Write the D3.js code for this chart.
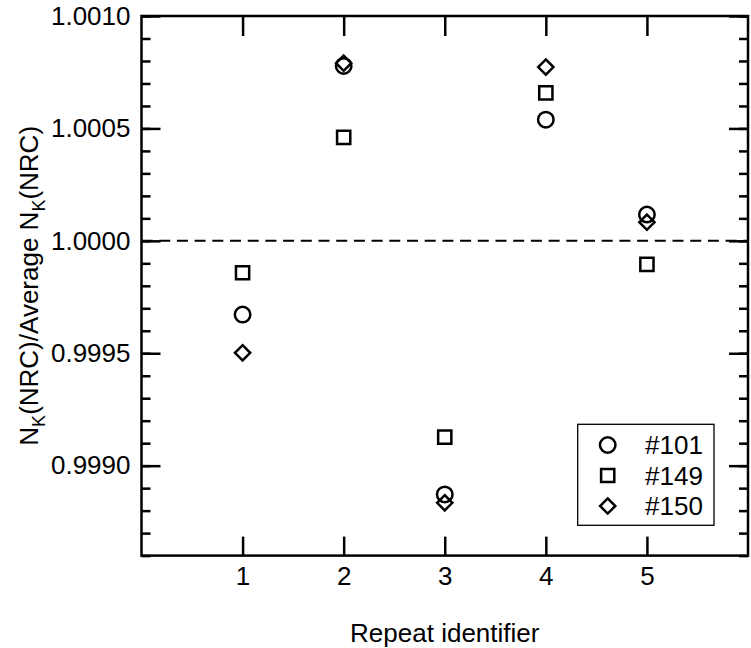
<!DOCTYPE html>
<html>
<head>
<meta charset="utf-8">
<script src="https://cdn.jsdelivr.net/npm/d3@7"></script>
<style>
    body { margin: 0; background: #fff; }
    text { font-family: "Liberation Sans", Arial, Helvetica, sans-serif; fill: #000; }
    .axis path.domain { display: none; }
    .axis line { stroke: #000; stroke-width: 2.5; }
    .axis text { font-size: 26px; }
</style>
</head>
<body>
<div id="chart"></div>
<script>
// data
const repeats = [1, 2, 3, 4, 5];
const seriesNames = ["#101", "#149", "#150"];
const s101 = [0.999672, 1.000778, 0.998872, 1.000539, 1.000117];
const s149 = [0.999858, 1.000460, 0.999127, 1.000658, 0.999895];
const s150 = [0.999502, 1.000790, 0.998835, 1.000773, 1.000083];
const xTicks = [1, 2, 3, 4, 5];
const yMajor = [0.9990, 0.9995, 1.0000, 1.0005, 1.0010];
const yMinor = d3.range(0, 25).map((i) => +(0.9986 + i * 0.0001).toFixed(4));

// margin convention
const svgWidth = 751,
    svgHeight = 648,
    margin = { top: 16, right: 3, bottom: 92.4, left: 141.5 },
    width = svgWidth - margin.left - margin.right,
    height = svgHeight - margin.top - margin.bottom;

let svg = d3.select("#chart").append("svg")
    .attr("width", svgWidth)
    .attr("height", svgHeight)
    .append("g")
    .attr("transform", "translate(" + margin.left + "," + margin.top + ")");

let xScale = d3.scaleLinear().domain([0, 6]).range([0, width]);
let yScale = d3.scaleLinear().domain([0.9986, 1.0010]).range([height, 0]);

// axes, ticks pointing inward
svg.append("g").attr("class", "axis")
    .call(d3.axisLeft(yScale).tickValues(yMinor).tickSize(-9).tickFormat(""));
svg.append("g").attr("class", "axis")
    .call(d3.axisLeft(yScale).tickValues(yMajor).tickSizeInner(-19).tickSizeOuter(0)
        .tickPadding(11).tickFormat(d3.format(".4f")));
svg.append("g").attr("class", "axis")
    .attr("transform", `translate(${width},0)`)
    .call(d3.axisRight(yScale).tickValues(yMinor).tickSize(-9).tickFormat(""));
svg.append("g").attr("class", "axis")
    .attr("transform", `translate(${width},0)`)
    .call(d3.axisRight(yScale).tickValues(yMajor).tickSize(-19).tickFormat(""));
svg.append("g").attr("class", "axis")
    .attr("transform", `translate(0,${height})`)
    .call(d3.axisBottom(xScale).tickValues(xTicks).tickSizeInner(-19).tickSizeOuter(0)
        .tickPadding(11).tickFormat(d3.format("d")));
svg.append("g").attr("class", "axis")
    .call(d3.axisTop(xScale).tickValues(xTicks).tickSize(-20).tickFormat(""));

// frame
svg.append("rect")
    .attr("width", width)
    .attr("height", height)
    .attr("fill", "none")
    .attr("stroke", "#000")
    .attr("stroke-width", 2.5);

// reference line at 1
svg.append("line")
    .attr("x1", 0)
    .attr("x2", width)
    .attr("y1", yScale(1))
    .attr("y2", yScale(1))
    .attr("stroke", "#000")
    .attr("stroke-width", 2)
    .attr("stroke-dasharray", "11,6.7");

// axis labels
svg.append("text")
    .attr("x", width / 2)
    .attr("y", height + 86)
    .attr("text-anchor", "middle")
    .style("font-size", "26px")
    .text("Repeat identifier");

let yLabel = svg.append("text")
    .attr("transform", `translate(${38 - margin.left}, ${height / 2}) rotate(-90)`)
    .attr("text-anchor", "middle")
    .style("font-size", "26px");
yLabel.append("tspan").text("N");
yLabel.append("tspan").attr("dy", 7).style("font-size", "18px").text("K");
yLabel.append("tspan").attr("dy", -7).text("(NRC)/Average N");
yLabel.append("tspan").attr("dy", 7).style("font-size", "18px").text("K");
yLabel.append("tspan").attr("dy", -7).text("(NRC)");

// marker shapes
const shapes = {
    circle: d3.path(),
    square: "M-6.6,-6.6H6.6V6.6H-6.6Z",
    diamond: "M0,-7.6L7.6,0L0,7.6L-7.6,0Z"
};
shapes.circle.arc(0, 0, 7.75, 0, 2 * Math.PI);
shapes.circle = shapes.circle.toString() + "Z";

const series = [
    { name: seriesNames[0], values: s101, shape: shapes.circle },
    { name: seriesNames[1], values: s149, shape: shapes.square },
    { name: seriesNames[2], values: s150, shape: shapes.diamond }
];

series.forEach((s) => {
    svg.append("g").selectAll("path")
        .data(repeats.map((r, i) => ({ x: r, y: s.values[i] })))
        .join("path")
        .attr("transform", (d) => `translate(${xScale(d.x)},${yScale(d.y)})`)
        .attr("d", s.shape)
        .attr("fill", "none")
        .attr("stroke", "#000")
        .attr("stroke-width", 2.5);
});

// legend
let legend = svg.append("g")
    .attr("transform", `translate(${577.7 - margin.left},${424.3 - margin.top})`);
legend.append("rect")
    .attr("width", 136.3)
    .attr("height", 101)
    .attr("fill", "#fff")
    .attr("stroke", "#000")
    .attr("stroke-width", 1.3);
let rows = legend.selectAll("g.row")
    .data(series)
    .join("g")
    .attr("class", "row")
    .attr("transform", (d, i) => `translate(0,${20.7 + i * 30.5})`);
rows.append("path")
    .attr("transform", "translate(30,0)")
    .attr("d", (d) => d.shape)
    .attr("fill", "none")
    .attr("stroke", "#000")
    .attr("stroke-width", 2.5);
rows.append("text")
    .attr("x", 67.3)
    .attr("dy", "0.36em")
    .style("font-size", "26px")
    .text((d) => d.name);
</script>
</body>
</html>
